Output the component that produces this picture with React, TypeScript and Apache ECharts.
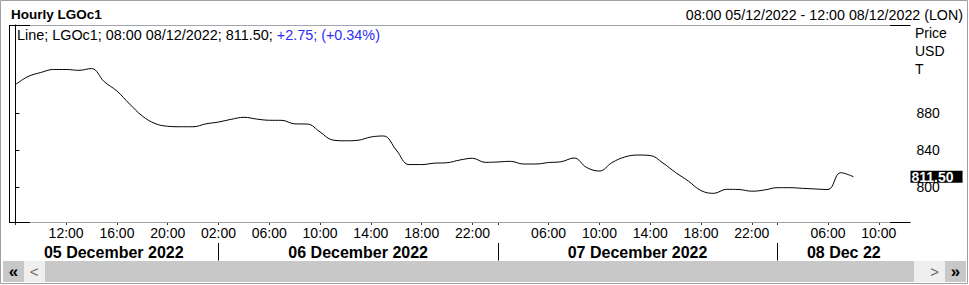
import React, { useEffect, useRef } from "react";
import * as echarts from "echarts";

// ---------- data ----------
const sessions = [
  { day: "05/12/2022", first: 8, last: 22 },
  { day: "06/12/2022", first: 1, last: 22 },
  { day: "07/12/2022", first: 1, last: 22 },
  { day: "08/12/2022", first: 1, last: 12 },
];

const categories: string[] = [];
const hourLabels: string[] = [];
sessions.forEach((s) => {
  for (let h = s.first; h <= s.last; h++) {
    const hh = String(h).padStart(2, "0") + ":00";
    categories.push(hh + " " + s.day);
    hourLabels.push(hh);
  }
});

const prices = [
  // 05 Dec 08:00-22:00
  911.0, 919.8, 924.1, 927.4, 927.4, 926.5, 928.4, 914.2, 904.1, 890.1, 877.1, 869.0, 866.0, 865.5, 865.5,
  // 06 Dec 01:00-22:00
  868.6, 870.6, 873.5, 875.7, 873.8, 872.5, 872.4, 868.6, 868.4, 859.8, 851.1, 850.3, 850.9, 854.4, 855.5,
  840.3, 824.6, 824.6, 826.1, 826.6, 829.5, 831.4,
  // 07 Dec 01:00-22:00
  827.0, 827.4, 828.1, 825.2, 825.2, 826.8, 827.7, 831.7, 821.4, 817.6, 826.8, 832.8, 834.9, 834.4, 826.3,
  816.0, 806.8, 796.5, 793.5, 797.8, 797.6, 795.8,
  // 08 Dec 01:00-08:00
  797.1, 799.6, 799.6, 798.9, 798.2, 797.6, 815.8, 811.5,
];

const tickIdx = [0, 4, 8, 12, 16, 20, 24, 28, 32, 36, 38, 42, 46, 50, 54, 58, 60, 64, 68];
const labelIdx = [4, 8, 12, 16, 20, 24, 28, 32, 36, 42, 46, 50, 54, 58, 64, 68];
const dayLabels = ["05 December 2022", "06 December 2022", "07 December 2022", "08 Dec 22"];
const dayBreaks = [16, 38, 60];
const yTicks = [800, 840, 880];
const unitLines = ["Price", "USD", "T"];
const titleText = "Hourly LGOc1";
const rangeText = "08:00 05/12/2022 - 12:00 08/12/2022 (LON)";
const ric = "LGOc1";
const change = 2.75;
const changePct = 0.34;

// ---------- layout ----------
const FONT = "'Liberation Sans', Arial, Helvetica, sans-serif";
const GL = 9;
const GR = 910.5;
const GT = 25;
const GB = 222;
const X_MIN = -0.5;
const X_MAX = categories.length - 0.5;

const bounds = [X_MIN, ...dayBreaks, X_MAX];
const dayCenters = dayLabels.map((_, i) => (bounds[i] + bounds[i + 1]) / 2);

const lastIdx = prices.length - 1;
const lastVal = prices[lastIdx];

function buildOption(): any {
  const legendA = `Line; ${ric}; ${categories[lastIdx]}; ${lastVal.toFixed(2)}; `;
  const legendB = `+${change.toFixed(2)}; (+${changePct.toFixed(2)}%)`;
  const grey = "#a3a3ad";
  const line = (x1: number, y1: number, x2: number, y2: number, color: string) => ({
    type: "line",
    silent: true,
    z: 50,
    shape: { x1, y1, x2, y2 },
    style: { stroke: color, lineWidth: 1 },
  });
  const txt = (
    x: number,
    y: number,
    text: string,
    font: string,
    fill: string,
    align: string = "left"
  ) => ({
    type: "text",
    silent: true,
    z: 60,
    x,
    y,
    style: {
      text,
      font,
      fill,
      textAlign: align,
      align,
      textVerticalAlign: "middle",
      verticalAlign: "middle",
    },
  });

  return {
    animation: false,
    backgroundColor: "#ffffff",
    textStyle: { fontFamily: FONT },
    grid: {
      left: GL,
      top: GT,
      width: GR - GL,
      height: GB - GT,
      containLabel: false,
      outerBoundsMode: "none",
    },
    xAxis: [
      {
        type: "value",
        min: X_MIN,
        max: X_MAX,
        position: "bottom",
        axisLine: { show: false },
        splitLine: { show: false },
        axisTick: {
          show: true,
          customValues: tickIdx,
          length: 3,
          lineStyle: { color: "#333333" },
        },
        axisLabel: {
          show: true,
          customValues: labelIdx,
          formatter: (v: number) => hourLabels[Math.round(v)] ?? "",
          fontSize: 14,
          fontFamily: FONT,
          color: "#000000",
          margin: 4,
        },
      },
      {
        type: "value",
        min: X_MIN,
        max: X_MAX,
        position: "bottom",
        offset: 21,
        axisLine: { show: false },
        splitLine: { show: false },
        axisTick: {
          show: true,
          customValues: dayBreaks,
          length: 17.5,
          lineStyle: { color: "#000000" },
        },
        axisLabel: {
          show: true,
          customValues: dayCenters,
          formatter: (v: number) => {
            const i = dayCenters.findIndex((c) => Math.abs(c - v) < 0.01);
            return i >= 0 ? dayLabels[i] : "";
          },
          fontSize: 16,
          fontWeight: "bold",
          fontFamily: FONT,
          color: "#000000",
          margin: 1,
        },
      },
    ],
    yAxis: {
      type: "value",
      position: "right",
      min: 762.5,
      max: 975.5,
      axisLine: { show: true, lineStyle: { color: "#000000" } },
      splitLine: { show: false },
      axisTick: {
        show: true,
        customValues: yTicks,
        length: 4,
        lineStyle: { color: "#000000" },
      },
      axisLabel: {
        show: true,
        customValues: yTicks,
        fontSize: 14,
        fontFamily: FONT,
        color: "#000000",
        margin: 6,
      },
    },
    series: [
      {
        type: "line",
        xAxisIndex: 0,
        yAxisIndex: 0,
        data: prices.map((v, i) => [i, v]),
        smooth: 0.4,
        symbol: "none",
        clip: true,
        lineStyle: { color: "#000000", width: 1 },
        z: 10,
        markLine: {
          silent: true,
          symbol: "none",
          z: 70,
          lineStyle: { color: "rgba(0,0,0,0)", width: 0 },
          label: {
            show: true,
            position: "end",
            distance: 0,
            formatter: lastVal.toFixed(2),
            backgroundColor: "#000000",
            color: "#ffffff",
            fontWeight: "bold",
            fontSize: 14,
            fontFamily: FONT,
            lineHeight: 11,
            padding: [1, 9, 0, 1],
          },
          data: [{ yAxis: lastVal }],
        },
      },
    ],
    graphic: [
      // outer border
      {
        type: "rect",
        silent: true,
        z: 40,
        shape: { x: 0.5, y: 0.5, width: 967, height: 283 },
        style: { fill: "none", stroke: "#a0a0a0", lineWidth: 1 },
      },
      // plot frame
      line(GL + 0.5, GT, GL + 0.5, GB + 0.5, "#000"),
      line(GL, GT + 0.5, GR, GT + 0.5, grey),
      line(GL, GT + 0.5, 30, GT + 0.5, "#000"),
      line(890, GT + 0.5, GR, GT + 0.5, "#000"),
      line(GL, GB + 0.5, GR, GB + 0.5, grey),
      line(GL, GB + 0.5, 30, GB + 0.5, "#000"),
      line(890, GB + 0.5, GR, GB + 0.5, "#000"),
      // header
      txt(11, 14.5, titleText, `bold 13.5px ${FONT}`, "#000"),
      txt(963, 15, rangeText, `14.25px ${FONT}`, "#000", "right"),
      {
        type: "text",
        silent: true,
        z: 60,
        x: 17,
        y: 35,
        style: {
          text: `{a|${legendA}}{b|${legendB}}`,
          font: `14.4px ${FONT}`,
          textVerticalAlign: "middle",
          verticalAlign: "middle",
          rich: {
            a: { fill: "#000000", color: "#000000", font: `14.4px ${FONT}` },
            b: { fill: "#2e2ef5", color: "#2e2ef5", font: `14.4px ${FONT}` },
          },
        },
      },
      // unit labels
      ...unitLines.map((u, i) => txt(915, 33.3 + i * 18, u, `14px ${FONT}`, "#000")),
      // scrollbar
      {
        type: "rect",
        silent: true,
        z: 40,
        shape: { x: 3, y: 261, width: 21, height: 21 },
        style: { fill: "#c8c8c8" },
      },
      {
        type: "rect",
        silent: true,
        z: 40,
        shape: { x: 24, y: 261, width: 21, height: 21 },
        style: { fill: "#efefef" },
      },
      {
        type: "rect",
        silent: true,
        z: 40,
        shape: { x: 45, y: 261, width: 869, height: 21 },
        style: { fill: "#c8c8c8" },
      },
      {
        type: "rect",
        silent: true,
        z: 40,
        shape: { x: 914, y: 261, width: 31, height: 21 },
        style: { fill: "#efefef" },
      },
      {
        type: "rect",
        silent: true,
        z: 40,
        shape: { x: 945, y: 261, width: 21, height: 21 },
        style: { fill: "#c8c8c8" },
      },
      txt(13.5, 271, "«", `bold 17px ${FONT}`, "#000", "center"),
      txt(34, 271, "<", `15px ${FONT}`, "#666", "center"),
      txt(934.5, 271, ">", `15px ${FONT}`, "#666", "center"),
      txt(955.5, 271, "»", `bold 17px ${FONT}`, "#000", "center"),
    ],
  };
}

export default function App() {
  const ref = useRef<HTMLDivElement>(null);
  useEffect(() => {
    if (!ref.current) return;
    const chart = echarts.init(ref.current, null, { renderer: "svg" });
    chart.setOption(buildOption());
    return () => chart.dispose();
  }, []);
  return (
    <div
      ref={ref}
      style={{ position: "fixed", left: 0, top: 0, width: 969, height: 285, background: "#fff" }}
    />
  );
}
